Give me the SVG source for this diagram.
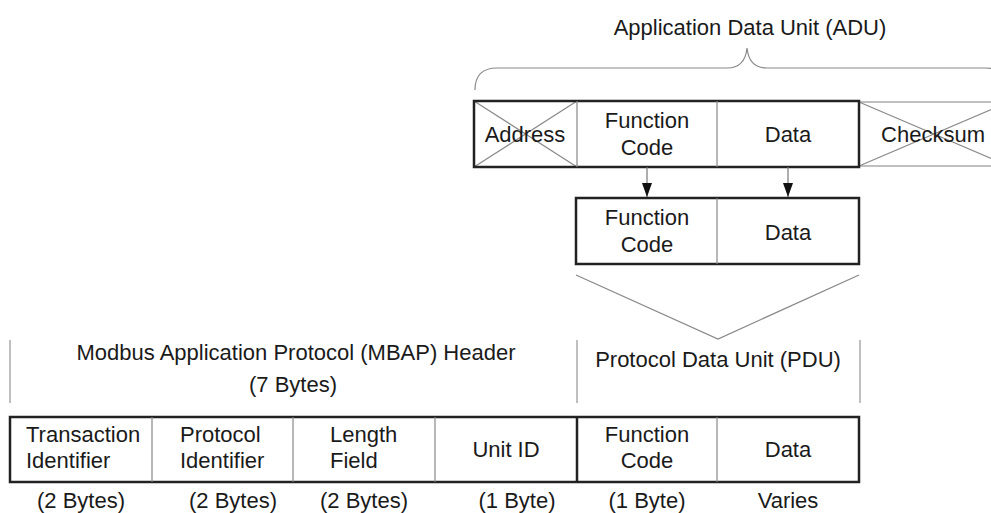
<svg xmlns="http://www.w3.org/2000/svg" width="991" height="513" viewBox="0 0 991 513">
<defs>
<marker id="arr" markerWidth="14" markerHeight="10" refX="14" refY="5" orient="auto" markerUnits="userSpaceOnUse" viewBox="0 0 14 10">
<path d="M0,0 L14,5 L0,10 Z" fill="#111"/>
</marker>
</defs>
<style>
text{font-family:"Liberation Sans",Arial,sans-serif;font-size:22px;fill:#1a1a1a;}
.c{text-anchor:middle;}
.thick{fill:none;stroke:#222;stroke-width:2.5;}
.thin{fill:none;stroke:#888;stroke-width:1.2;}
.light{fill:none;stroke:#aaa;stroke-width:1.5;}
.conn{fill:none;stroke:#777;stroke-width:1.2;}
</style>
<rect width="991" height="513" fill="#fff"/>

<g id="adu-title">
<text class="c" x="750" y="35">Application Data Unit (ADU)</text>
<path class="thin" d="M475,90 Q475,68 497,68 L727,68 Q745,68 747,48 Q749,68 767,68 L985,68 Q1007,68 1007,90"/>
</g>

<g id="adu-checksum">
<rect class="light" x="859" y="102" width="150" height="64"/>
<path class="thin" d="M859,102 L1009,166 M859,166 L1009,102"/>
<text class="c" x="933" y="142">Checksum</text>
</g>

<g id="adu-address">
<path class="thin" d="M474,101 L577,167 M474,167 L577,101"/>
<text class="c" x="525" y="142">Address</text>
</g>

<g id="adu-function">
<text class="c" x="647" y="128">Function</text>
<text class="c" x="647" y="155">Code</text>
</g>

<g id="adu-data">
<text class="c" x="788" y="142">Data</text>
</g>

<g id="adu-box">
<rect class="thick" x="474" y="101" width="385" height="66"/>
<path class="thin" d="M577,101 V167 M717,101 V167"/>
</g>

<g id="pdu-small">
<rect class="thick" x="576" y="198" width="283" height="66"/>
<path class="thin" d="M717,198 V264"/>
<text class="c" x="647" y="225">Function</text>
<text class="c" x="647" y="252">Code</text>
<text class="c" x="788" y="240">Data</text>
</g>

<g id="connectors">
<line class="conn" x1="647" y1="167" x2="647" y2="197" marker-end="url(#arr)"/>
<line class="conn" x1="788" y1="167" x2="788" y2="197" marker-end="url(#arr)"/>
<path class="thin" d="M576,275 L718,339 L859,275"/>
</g>

<g id="mbap-title">
<line class="light" x1="10" y1="340" x2="10" y2="403"/>
<text class="c" x="296" y="360">Modbus Application Protocol (MBAP) Header</text>
<text class="c" x="293" y="392">(7 Bytes)</text>
</g>

<g id="pdu-title">
<line class="light" x1="577" y1="340" x2="577" y2="403"/>
<line class="light" x1="860" y1="340" x2="860" y2="403"/>
<text class="c" x="718" y="367">Protocol Data Unit (PDU)</text>
</g>

<g id="frame">
<rect class="thick" x="10" y="417" width="849" height="65"/>
<path class="thin" d="M152,417 V482 M293,417 V482 M435,417 V482 M717,417 V482"/>
<path class="thick" d="M577,417 V482"/>
</g>

<g id="transaction-id">
<text x="26" y="442">Transaction</text>
<text x="26" y="468">Identifier</text>
<text class="c" x="81" y="508">(2 Bytes)</text>
</g>
<g id="protocol-id">
<text x="180" y="442">Protocol</text>
<text x="180" y="468">Identifier</text>
<text class="c" x="233" y="508">(2 Bytes)</text>
</g>
<g id="length-field">
<text x="330" y="442">Length</text>
<text x="330" y="468">Field</text>
<text class="c" x="364" y="508">(2 Bytes)</text>
</g>
<g id="unit-id">
<text class="c" x="506" y="457">Unit ID</text>
<text class="c" x="517" y="508">(1 Byte)</text>
</g>
<g id="function-code">
<text class="c" x="647" y="442">Function</text>
<text class="c" x="647" y="468">Code</text>
<text class="c" x="647" y="508">(1 Byte)</text>
</g>
<g id="data">
<text class="c" x="788" y="457">Data</text>
<text class="c" x="788" y="508">Varies</text>
</g>
</svg>
